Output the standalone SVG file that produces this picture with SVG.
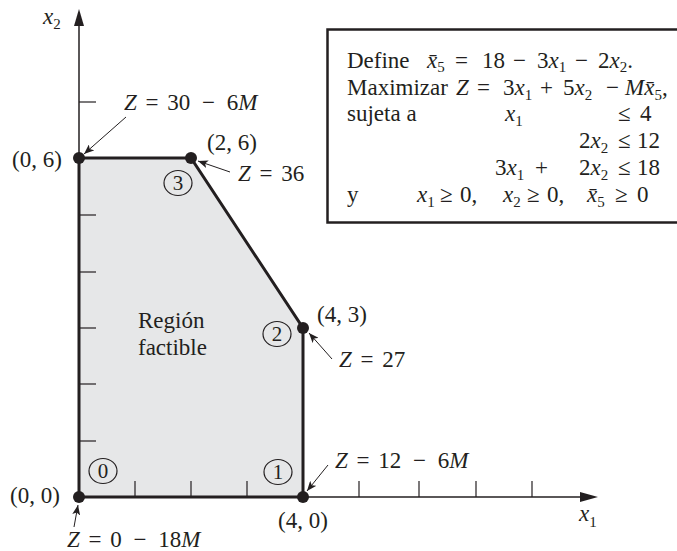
<svg xmlns="http://www.w3.org/2000/svg" width="677" height="551" viewBox="0 0 677 551">
<defs>
<style>
text{font-family:"Liberation Serif","Times New Roman",serif;font-size:23px;fill:#231f20;}
.i{font-style:italic;}
.s{font-size:15px;}
.lbl{word-spacing:3px;}
.cn{font-size:21px;text-anchor:middle;}
.ax{stroke:#231f20;stroke-width:1.5;fill:none;}
.tk{stroke:#231f20;stroke-width:1.2;}
.edge{stroke:#231f20;stroke-width:3;fill:none;stroke-linejoin:miter;}
.ptr{stroke:#231f20;stroke-width:1;fill:none;marker-end:url(#ah);}
.dot{fill:#231f20;}
.circ{fill:none;stroke:#231f20;stroke-width:1.2;}
</style>
<marker id="ah" viewBox="0 0 10 8" refX="10" refY="4" markerWidth="10" markerHeight="8" markerUnits="userSpaceOnUse" orient="auto">
<path d="M0,0 L10,4 L0,8 L2.5,4 Z" fill="#231f20"/>
</marker>
</defs>

<g id="region">
<polygon points="79,497 303,497 303,328 191,158 79,158" fill="#e6e7e8"/>
</g>

<g id="axes">
<line class="ax" x1="79" y1="497" x2="79" y2="24"/>
<polygon points="79,9 74,26 84,26" fill="#231f20"/>
<line class="ax" x1="79" y1="497" x2="582" y2="497" stroke="#444"/>
<polygon points="598,497 580,492 580,502" fill="#231f20"/>
<g class="tk">
<line x1="135" y1="481" x2="135" y2="497"/>
<line x1="191" y1="481" x2="191" y2="497"/>
<line x1="247" y1="481" x2="247" y2="497"/>
<line x1="359" y1="481" x2="359" y2="497"/>
<line x1="419" y1="481" x2="419" y2="497"/>
<line x1="476" y1="481" x2="476" y2="497"/>
<line x1="532" y1="481" x2="532" y2="497"/>
<line x1="79" y1="441" x2="96" y2="441"/>
<line x1="79" y1="384" x2="96" y2="384"/>
<line x1="79" y1="328" x2="96" y2="328"/>
<line x1="79" y1="272" x2="96" y2="272"/>
<line x1="79" y1="215" x2="96" y2="215"/>
<line x1="79" y1="102" x2="96" y2="102"/>
</g>
<text x="43" y="24" class="i">x<tspan class="s" dy="5" font-style="normal">2</tspan></text>
<text x="579" y="521" class="i">x<tspan class="s" dy="6" font-style="normal">1</tspan></text>
</g>

<g id="edges">
<polyline class="edge" points="79,497 303,497 303,328 191,158 79,158 79,497"/>
</g>

<g id="vertex-0">
<circle class="dot" cx="79" cy="497" r="6"/>
<ellipse class="circ" cx="103" cy="471" rx="14" ry="12.5"/>
<text class="cn" x="103" y="478">0</text>
<text x="10" y="503">(0, 0)</text>
<text class="lbl" x="67" y="547"><tspan class="i">Z</tspan> = 0 <tspan dx="3">−</tspan> <tspan dx="3">18</tspan><tspan class="i">M</tspan></text>
</g>

<g id="vertex-1">
<circle class="dot" cx="303" cy="497" r="6"/>
<ellipse class="circ" cx="278" cy="472" rx="14" ry="12.5"/>
<text class="cn" x="278" y="479">1</text>
<text x="278" y="528">(4, 0)</text>
<text class="lbl" x="335" y="468"><tspan class="i">Z</tspan> = 12 <tspan dx="3">−</tspan> <tspan dx="3">6</tspan><tspan class="i">M</tspan></text>
</g>

<g id="vertex-2">
<circle class="dot" cx="303" cy="328" r="6"/>
<ellipse class="circ" cx="277" cy="334" rx="14" ry="12.5"/>
<text class="cn" x="277" y="341">2</text>
<text x="317" y="322">(4, 3)</text>
<text class="lbl" x="339" y="367"><tspan class="i">Z</tspan> = 27</text>
</g>

<g id="vertex-3">
<circle class="dot" cx="191" cy="158" r="6"/>
<ellipse class="circ" cx="178" cy="183" rx="14" ry="12.5"/>
<text class="cn" x="178" y="190">3</text>
<text x="207" y="150">(2, 6)</text>
<text class="lbl" x="238" y="181"><tspan class="i">Z</tspan> = 36</text>
</g>

<g id="vertex-4">
<circle class="dot" cx="79" cy="158" r="6"/>
<text x="12" y="167">(0, 6)</text>
<text class="lbl" x="124" y="110"><tspan class="i">Z</tspan> = 30 <tspan dx="3">−</tspan> <tspan dx="3">6</tspan><tspan class="i">M</tspan></text>
</g>

<g id="region-label">
<text x="138" y="328">Región</text>
<text x="138" y="355">factible</text>
</g>

<g id="connectors">
<line class="ptr" x1="126" y1="117" x2="84" y2="154"/>
<line class="ptr" x1="230" y1="172" x2="198" y2="161"/>
<line class="ptr" x1="332" y1="359" x2="309" y2="333"/>
<line class="ptr" x1="328" y1="465" x2="307" y2="491"/>
<line class="ptr" x1="74" y1="527" x2="78" y2="505"/>
</g>

<g id="model-box">
<rect x="327.5" y="29.5" width="360" height="193" fill="#fff" stroke="#231f20" stroke-width="2.5"/>
<text x="347" y="68">Define</text>
<text x="427" y="68" class="i">x̄<tspan class="s" dy="4" font-style="normal">5</tspan></text>
<text x="455" y="68">=</text>
<text x="482" y="68">18</text>
<text x="513" y="68">−</text>
<text x="537" y="68">3<tspan class="i">x</tspan><tspan class="s" dy="4">1</tspan></text>
<text x="575" y="68">−</text>
<text x="598" y="68">2<tspan class="i">x</tspan><tspan class="s" dy="4">2</tspan><tspan dy="-4">.</tspan></text>

<text x="347" y="95">Maximizar</text>
<text x="456" y="95" class="i">Z</text>
<text x="477" y="95">=</text>
<text x="503" y="95">3<tspan class="i">x</tspan><tspan class="s" dy="5">1</tspan></text>
<text x="540" y="95">+</text>
<text x="563" y="95">5<tspan class="i">x</tspan><tspan class="s" dy="5">2</tspan></text>
<text x="606" y="95">−</text>
<text x="625" y="95"><tspan class="i">Mx̄</tspan><tspan class="s" dy="5">5</tspan><tspan dy="-5">,</tspan></text>

<text x="347" y="121">sujeta a</text>
<text x="505" y="121" class="i">x<tspan class="s" dy="5" font-style="normal">1</tspan></text>
<text x="618" y="121">≤</text>
<text x="640" y="121">4</text>

<text x="579" y="148">2<tspan class="i">x</tspan><tspan class="s" dy="5">2</tspan></text>
<text x="618" y="148">≤</text>
<text x="637" y="148">12</text>

<text x="495" y="175">3<tspan class="i">x</tspan><tspan class="s" dy="5">1</tspan></text>
<text x="535" y="175">+</text>
<text x="579" y="175">2<tspan class="i">x</tspan><tspan class="s" dy="5">2</tspan></text>
<text x="618" y="175">≤</text>
<text x="637" y="175">18</text>

<text x="347" y="202">y</text>
<text x="417" y="202" class="i">x<tspan class="s" dy="5" font-style="normal">1</tspan></text>
<text x="440" y="202">≥</text>
<text x="460" y="202">0,</text>
<text x="503" y="202" class="i">x<tspan class="s" dy="5" font-style="normal">2</tspan></text>
<text x="527" y="202">≥</text>
<text x="547" y="202">0,</text>
<text x="587" y="202" class="i">x̄<tspan class="s" dy="5" font-style="normal">5</tspan></text>
<text x="615" y="202">≥</text>
<text x="637" y="202">0</text>
</g>
</svg>
